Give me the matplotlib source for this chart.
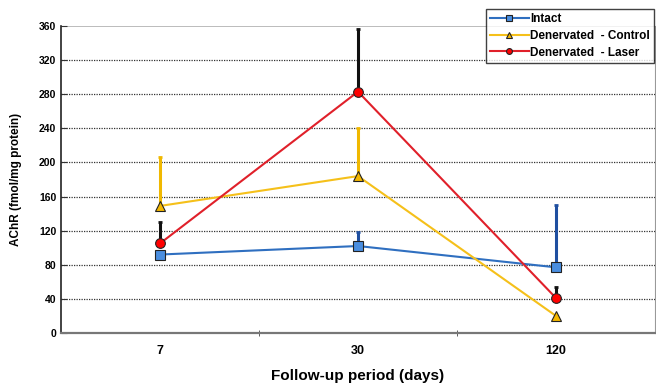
import matplotlib
matplotlib.use("Agg")
import matplotlib.pyplot as plt
import numpy as np

plt.rcParams['font.family'] = ['Liberation Sans', 'DejaVu Sans']

categories = ["7", "30", "120"]
intact = [92, 102, 77]
intact_err = [0, 16, 73]
control = [149, 184, 20]
control_err = [57, 56, 0]
laser = [105, 283, 41]
laser_err = [25, 74, 13]

fig = plt.figure(figsize=(6.56, 3.83), dpi=100)
ax = fig.add_axes([61/656, 1-333/383, 594/656, 307/383])
x = np.arange(len(categories))

series = [
    ("Intact", intact, intact_err, "#2f6fc0", "#4a8ee0", "s", "#1f4fa0"),
    ("Denervated  - Control", control, control_err, "#f5c01a", "#f5b800", "^", "#f0b800"),
    ("Denervated  - Laser", laser, laser_err, "#e0202a", "#ff0000", "o", "#111111"),
]
for label, vals, err, lc, mc, mk, ec in series:
    ax.errorbar(x, vals, yerr=[np.zeros(len(err)), err], fmt="none", ecolor=ec,
                elinewidth=2.2, capsize=1.5, capthick=2, zorder=2)
    ax.plot(x, vals, color=lc, lw=1.5, marker=mk, markersize=7, markerfacecolor=mc,
            markeredgecolor="#222222", markeredgewidth=0.8, label=label, zorder=3)

ax.set_xlim(-0.5, 2.5)
ax.set_ylim(0, 360)
ax.set_yticks(np.arange(0, 361, 40))
ax.set_xticks(x)
ax.set_xticklabels(categories, fontweight="bold", fontsize=9)
ax.set_xticks([0.5, 1.5], minor=True)
ax.tick_params(axis="x", which="major", length=0, pad=9)
ax.tick_params(axis="x", which="minor", length=4, direction="inout", color="#444444")
ax.tick_params(axis="y", length=4, direction="in", labelsize=7.5, color="#333333")
for lab in ax.get_yticklabels():
    lab.set_fontweight("bold")
for yv in range(40, 360, 40):
    ax.axhline(yv, color="#333333", lw=0.9, ls=(0, (1, 1)), zorder=1)
ax.axhline(360, color="#b0b0b0", lw=1.2, zorder=1)

ax.spines["left"].set_color("#222222")
ax.spines["left"].set_linewidth(1.2)
ax.spines["bottom"].set_color("#777777")
ax.spines["bottom"].set_linewidth(1.6)
ax.spines["top"].set_visible(False)
ax.spines["right"].set_color("#999999")

ax.set_ylabel("AChR (fmol/mg protein)", fontweight="bold", fontsize=8.5, labelpad=12)
ax.set_xlabel("Follow-up period (days)", fontweight="bold", fontsize=11, labelpad=8)

leg = ax.legend(loc="upper right", bbox_to_anchor=(654/656, 1-9/383), bbox_transform=fig.transFigure,
                borderaxespad=0, frameon=True, fancybox=False, edgecolor="#111111",
                prop={"weight": "bold", "size": 8.5}, handlelength=3.3, handletextpad=0.1,
                borderpad=0.35, labelspacing=0.4, markerscale=0.6)
leg.get_frame().set_linewidth(1.0)

fig.savefig("out.png", dpi=100)
